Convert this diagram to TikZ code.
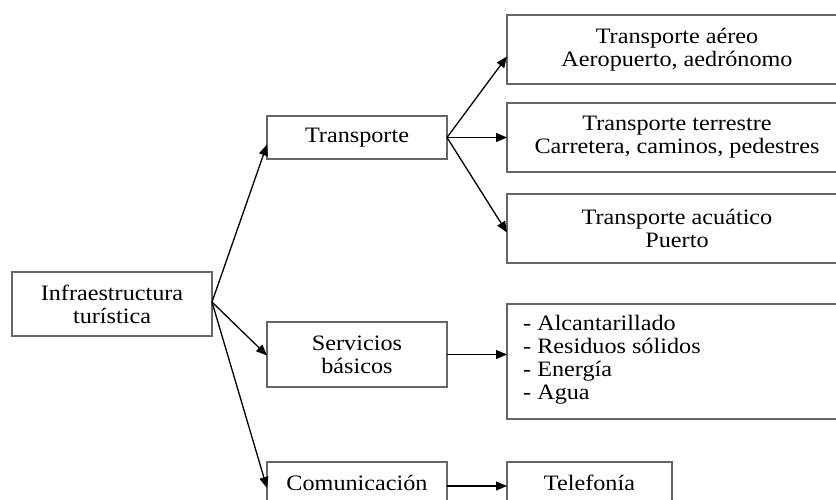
\documentclass[tikz,border=0pt]{standalone}
\usepackage{fontspec}
\setmainfont{Liberation Serif}[FakeStretch=1.1]
\usetikzlibrary{arrows.meta}
\tikzset{
  box/.style={draw=black!60, line width=1.3pt, fill=white, inner sep=0pt, outer sep=0pt,
    align=center, font=\fontsize{22}{23}\selectfont, text=black},
  conn/.style={draw=black, line width=1.3pt, -{Triangle[length=11pt,width=9pt]}},
}
\begin{document}
\begin{tikzpicture}[x=1pt, y=-1pt]
\useasboundingbox (0,0) rectangle (836,499);
\clip (0,0) rectangle (836,499);
% left
\node[box, minimum width=200pt, minimum height=64pt] (infra) at (112,304) {Infraestructura\\turística};
% middle
\node[box, minimum width=180pt, minimum height=43pt] (tr) at (357,137.5) {Transporte};
\node[box, minimum width=180pt, minimum height=65pt] (sb) at (357,354.5) {Servicios\\básicos};
\node[box, minimum width=180pt, minimum height=42pt] (com) at (357,483) {Comunicación};
% right
\node[box, minimum width=340pt, minimum height=69pt] (aereo) at (677,49.5) {Transporte aéreo\\Aeropuerto, aedrónomo};
\node[box, minimum width=340pt, minimum height=69pt] (terr) at (677,137.5) {Transporte terrestre\\Carretera, caminos, pedestres};
\node[box, minimum width=340pt, minimum height=69pt] (acu) at (677,228.5) {Transporte acuático\\Puerto};
\node[box, minimum width=340pt, minimum height=115pt] (list) at (677,361.5) {};
\node[anchor=west, align=left, inner sep=0pt, font=\fontsize{22}{23}\selectfont] (listtxt) at ([xshift=16pt, yshift=2pt]list.west)
  {- Alcantarillado\\- Residuos sólidos\\- Energía\\- Agua};
\node[box, minimum width=165pt, minimum height=42pt] (tel) at (589.5,483) {Telefonía};
% connectors
\draw[conn] ([yshift=2pt]infra.east) -- ([yshift=-7pt]tr.west);
\draw[conn] ([yshift=2pt]infra.east) -- ([yshift=-1pt]sb.west);
\draw[conn] ([yshift=2pt]infra.east) -- ([yshift=-5pt]com.west);
\draw[conn] (tr.east) -- ([yshift=-7pt]aereo.west);
\draw[conn] (tr.east) -- (terr.west);
\draw[conn] (tr.east) -- ([yshift=-4pt]acu.west);
\draw[conn] (sb.east) -- (sb.east -| list.west);
\draw[conn] ([yshift=-3pt]com.east) -- ([yshift=-3pt]com.east -| tel.west);
\end{tikzpicture}
\end{document}
